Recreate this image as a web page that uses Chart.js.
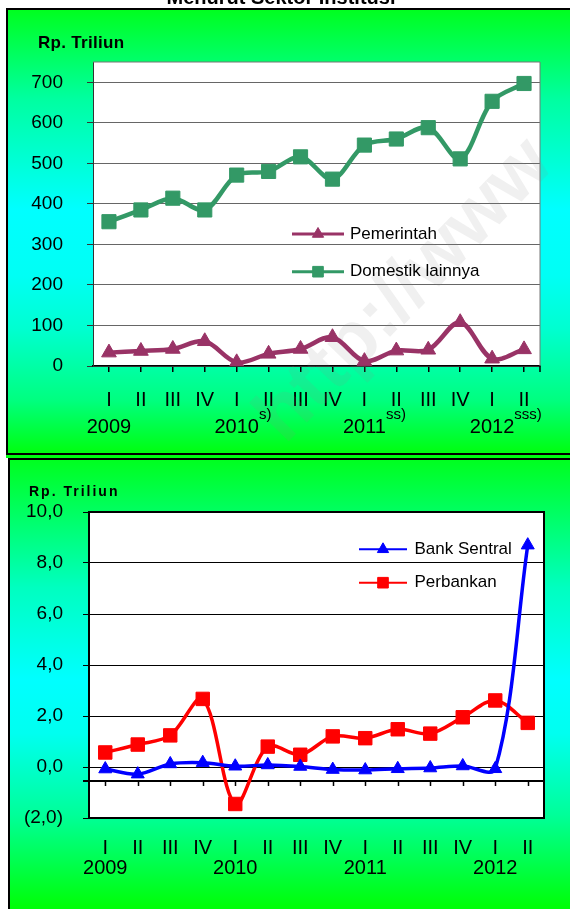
<!DOCTYPE html>
<html>
<head>
<meta charset="utf-8">
<script src="https://cdn.jsdelivr.net/npm/chart.js@4.4.1/dist/chart.umd.min.js"></script>
<style>
  html, body { margin: 0; padding: 0; background: #fff; }
  body { width: 570px; height: 909px; position: relative; overflow: hidden; }
  .panel { position: absolute; box-sizing: border-box; border: 2px solid #000; }
  #panel1 {
    left: 6px; top: 8px; width: 600px; height: 447px;
    background: linear-gradient(to bottom, #00ff20 0%, #00ffa0 20%, #00ffff 45%, #00fff5 60%, #00ffd0 72%, #00ff80 88%, #00ff10 100%);
    box-shadow: 0 3px 0 #00ff10;
  }
  #panel2 {
    left: 8px; top: 458px; width: 600px; height: 460px;
    background: linear-gradient(to bottom, #00ff20 0%, #00ffc0 28%, #00ffff 48%, #00fff0 60%, #00ff98 78%, #00ff08 98%);
  }
  canvas { position: absolute; left: 0; }
  #chart1 { top: 0; }
  #chart2 { top: 458px; }
</style>
</head>
<body>
<div class="panel" id="panel1"></div>
<div class="panel" id="panel2"></div>
<canvas id="chart1" width="570" height="455"></canvas>
<canvas id="chart2" width="570" height="451"></canvas>
<script>
const quarters = ['I', 'II', 'III', 'IV', 'I', 'II', 'III', 'IV', 'I', 'II', 'III', 'IV', 'I', 'II'];
const years = ['2009', '', '', '', '2010', '', '', '', '2011', '', '', '', '2012', ''];
const yearNotes = ['', '', '', '', 's)', '', '', '', 'ss)', '', '', '', 'sss)', ''];

// Rp. Triliun
const pemerintah = [33, 37, 42, 61, 9, 30, 42, 71, 12, 38, 40, 108, 18, 41];
const domestikLainnya = [356, 385, 414, 385, 471, 480, 516, 461, 545, 560, 588, 511, 653, 697];
const topTicks = [0, 100, 200, 300, 400, 500, 600, 700];

const bankSentral = [-0.08, -0.28, 0.12, 0.17, 0.03, 0.08, 0.02, -0.1, -0.12, -0.07, -0.04, 0.04, -0.07, 8.7];
const perbankan = [0.57, 0.88, 1.24, 2.67, -1.45, 0.8, 0.48, 1.2, 1.13, 1.48, 1.31, 1.95, 2.61, 1.73];
const bottomTicks = [-2, 0, 2, 4, 6, 8, 10];

const xLabels = quarters.map((q, i) => [q, years[i]]);

Chart.defaults.font.family = '"Liberation Sans", Arial, sans-serif';
Chart.defaults.color = '#000';
Chart.defaults.animation = false;

const fmt = v => {
  const s = Math.abs(v).toFixed(1).replace('.', ',');
  return v < 0 ? '(' + s + ')' : s;
};

// white plot area + "Rp. Triliun" caption + optional title
const panelText = {
  id: 'panelText',
  beforeDraw(chart, args, o) {
    const { ctx, chartArea: a } = chart;
    ctx.save();
    ctx.fillStyle = '#fff';
    ctx.fillRect(a.left, a.top, a.right - a.left, a.bottom - a.top);
    ctx.fillStyle = '#000';
    ctx.textBaseline = 'alphabetic';
    ctx.textAlign = 'left';
    ctx.font = o.unitFont;
    ctx.letterSpacing = o.unitSpacing || '0px';
    ctx.fillText('Rp. Triliun', o.unitX, o.unitY);
    ctx.letterSpacing = '0px';
    if (o.title) {
      ctx.textAlign = 'center';
      ctx.font = o.titleFont;
      ctx.fillText(o.title, o.titleX, o.titleY);
    }
    ctx.restore();
  }
};

const frame = {
  id: 'frame',
  beforeDatasetsDraw(chart, args, o) {
    const { ctx, chartArea: a } = chart;
    ctx.save();
    ctx.strokeStyle = o.color;
    ctx.lineWidth = o.width;
    ctx.beginPath();
    if (o.all) {
      ctx.rect(a.left, a.top, a.right - a.left, a.bottom - a.top);
    } else {
      ctx.moveTo(a.left, a.top);
      ctx.lineTo(a.right, a.top);
      ctx.lineTo(a.right, a.bottom);
    }
    ctx.stroke();
    if (o.edgeTick) {
      ctx.strokeStyle = '#000';
      ctx.lineWidth = 1.5;
      ctx.beginPath();
      ctx.moveTo(a.right, a.bottom);
      ctx.lineTo(a.right, a.bottom + 6);
      ctx.stroke();
    }
    ctx.restore();
  }
};

const watermark = {
  id: 'watermark',
  beforeDatasetsDraw(chart, args, o) {
    if (!o.text) return;
    const ctx = chart.ctx;
    ctx.save();
    ctx.translate(o.x, o.y);
    ctx.rotate(o.angle);
    ctx.font = o.font;
    ctx.fillStyle = o.color;
    ctx.textBaseline = 'alphabetic';
    ctx.fillText(o.text, 0, 0);
    ctx.restore();
  }
};

// x axis crossing inside the plot (bottom chart)
const crossAxis = {
  id: 'crossAxis',
  beforeDatasetsDraw(chart, args, o) {
    if (o.value === undefined) return;
    const { ctx, chartArea: a, scales: { x, y } } = chart;
    const yy = y.getPixelForValue(o.value);
    ctx.save();
    ctx.strokeStyle = '#000';
    ctx.lineWidth = 2;
    ctx.beginPath();
    ctx.moveTo(a.left - 6, yy);
    ctx.lineTo(a.right, yy);
    ctx.stroke();
    ctx.lineWidth = 1.5;
    ctx.beginPath();
    x.ticks.forEach((t, i) => {
      const px = Math.round(x.getPixelForTick(i)) + 0.5;
      ctx.moveTo(px, yy);
      ctx.lineTo(px, yy + 5);
    });
    ctx.stroke();
    ctx.restore();
  }
};

const insideLegend = {
  id: 'insideLegend',
  afterDatasetsDraw(chart, args, o) {
    const ctx = chart.ctx;
    ctx.save();
    ctx.font = o.font;
    ctx.textBaseline = 'middle';
    ctx.textAlign = 'left';
    chart.data.datasets.forEach((ds, i) => {
      const y = o.y + i * o.gap;
      ctx.strokeStyle = ds.borderColor;
      ctx.lineWidth = o.lineWidth;
      ctx.beginPath();
      ctx.moveTo(o.x, y);
      ctx.lineTo(o.x + o.len, y);
      ctx.stroke();
      ctx.fillStyle = ds.borderColor;
      ctx.lineWidth = 1;
      Chart.helpers.drawPoint(ctx, { pointStyle: ds.pointStyle, radius: o.radii[i], rotation: 0, borderWidth: 1 }, o.x + o.len / 2, y);
      ctx.fillStyle = '#000';
      ctx.fillText(ds.label, o.x + o.len + o.textGap, y);
    });
    ctx.restore();
  }
};

const yearSup = {
  id: 'yearSup',
  afterDraw(chart, args, o) {
    if (!o.notes) return;
    const { ctx, scales: { x } } = chart;
    ctx.save();
    ctx.fillStyle = '#000';
    ctx.textBaseline = 'middle';
    ctx.textAlign = 'left';
    o.notes.forEach((note, i) => {
      if (!note) return;
      ctx.font = o.yearFont;
      const w = ctx.measureText(years[i]).width;
      ctx.font = o.font;
      ctx.fillText(note, x.getPixelForValue(i) + w / 2, o.y);
    });
    ctx.restore();
  }
};

const plugins = [panelText, frame, watermark, crossAxis, insideLegend, yearSup];

// ---- top chart
new Chart(document.getElementById('chart1'), {
  type: 'line',
  data: {
    labels: xLabels,
    datasets: [
      {
        label: 'Pemerintah', data: pemerintah,
        borderColor: '#993366', backgroundColor: '#993366',
        borderWidth: 4.5, pointStyle: 'triangle', pointRadius: 8.5, pointBorderWidth: 1,
        tension: 0.33
      },
      {
        label: 'Domestik lainnya', data: domestikLainnya,
        borderColor: '#339966', backgroundColor: '#339966',
        borderWidth: 4.5, pointStyle: 'rect', pointRadius: 10, pointBorderWidth: 1,
        tension: 0.33
      }
    ]
  },
  options: {
    responsive: false,
    layout: { padding: { top: 62, right: 30, left: 0, bottom: 0 } },
    plugins: {
      legend: { display: false },
      tooltip: { enabled: false },
      panelText: {
        unitFont: 'bold 17px "Liberation Sans", Arial', unitSpacing: '0.3px', unitX: 38, unitY: 48,
        title: 'Menurut Sektor Institusi', titleFont: 'bold 20px "Liberation Sans", Arial', titleX: 281, titleY: 4
      },
      frame: { color: '#777', width: 1, edgeTick: true },
      watermark: {
        text: 'http://www', x: 285, y: 445, angle: -0.8,
        font: 'bold 76px "Liberation Sans", Arial', color: 'rgba(140,140,140,0.13)'
      },
      insideLegend: {
        x: 292, y: 234, gap: 37.7, len: 52, textGap: 6, lineWidth: 3,
        radii: [6.5, 7.5], font: '17px "Liberation Sans", Arial'
      },
      yearSup: {
        notes: yearNotes, y: 415,
        yearFont: '20px "Liberation Sans", Arial', font: '15px "Liberation Sans", Arial'
      }
    },
    scales: {
      x: {
        offset: true,
        grid: { display: true, drawOnChartArea: false, offset: false, tickLength: 6, tickColor: '#000', lineWidth: 1.5 },
        border: { color: '#000', width: 1.5 },
        ticks: { font: { size: 20, lineHeight: 1.32 }, padding: 15.5, maxRotation: 0, autoSkip: false, color: '#000' },
        afterFit: s => { s.height = 89; }
      },
      y: {
        min: 0, max: 750,
        ticks: { font: { size: 19 }, padding: 24, color: '#000' },
        afterBuildTicks: s => { s.ticks = topTicks.map(v => ({ value: v })); },
        grid: { color: '#666', tickColor: '#333', tickLength: 6 },
        border: { color: '#333', width: 1 },
        afterFit: s => { s.width = 93; }
      }
    }
  },
  plugins
});

// ---- bottom chart
new Chart(document.getElementById('chart2'), {
  type: 'line',
  data: {
    labels: xLabels,
    datasets: [
      {
        label: 'Bank Sentral', data: bankSentral,
        borderColor: '#0000ff', backgroundColor: '#0000ff',
        borderWidth: 3.5, pointStyle: 'triangle', pointRadius: 7.5, pointBorderWidth: 1,
        tension: 0.33
      },
      {
        label: 'Perbankan', data: perbankan,
        borderColor: '#ff0000', backgroundColor: '#ff0000',
        borderWidth: 3.5, pointStyle: 'rect', pointRadius: 9.5, pointBorderWidth: 1,
        tension: 0.33
      }
    ]
  },
  options: {
    responsive: false,
    layout: { padding: { top: 54, right: 26, left: 0, bottom: 0 } },
    plugins: {
      legend: { display: false },
      tooltip: { enabled: false },
      panelText: { unitFont: 'bold 14px "Liberation Sans", Arial', unitSpacing: '2px', unitX: 29, unitY: 38 },
      frame: { color: '#000', width: 2, all: true },
      crossAxis: { value: -0.55 },
      insideLegend: {
        x: 359, y: 91.3, gap: 33.4, len: 48, textGap: 7.5, lineWidth: 2,
        radii: [6.5, 7.5], font: '17px "Liberation Sans", Arial'
      }
    },
    scales: {
      x: {
        offset: true,
        grid: { display: false, drawTicks: false, tickLength: 0 },
        border: { display: false },
        ticks: { font: { size: 20, lineHeight: 1.0 }, padding: 20, maxRotation: 0, autoSkip: false, color: '#000' },
        afterFit: s => { s.height = 91; }
      },
      y: {
        min: -2, max: 10,
        ticks: { font: { size: 19 }, padding: 20, color: '#000', callback: v => fmt(v) },
        afterBuildTicks: s => { s.ticks = bottomTicks.map(v => ({ value: v })); },
        grid: { color: '#000', tickColor: '#000', tickLength: 6 },
        border: { display: false },
        afterFit: s => { s.width = 89; }
      }
    }
  },
  plugins
});
</script>
</body>
</html>
